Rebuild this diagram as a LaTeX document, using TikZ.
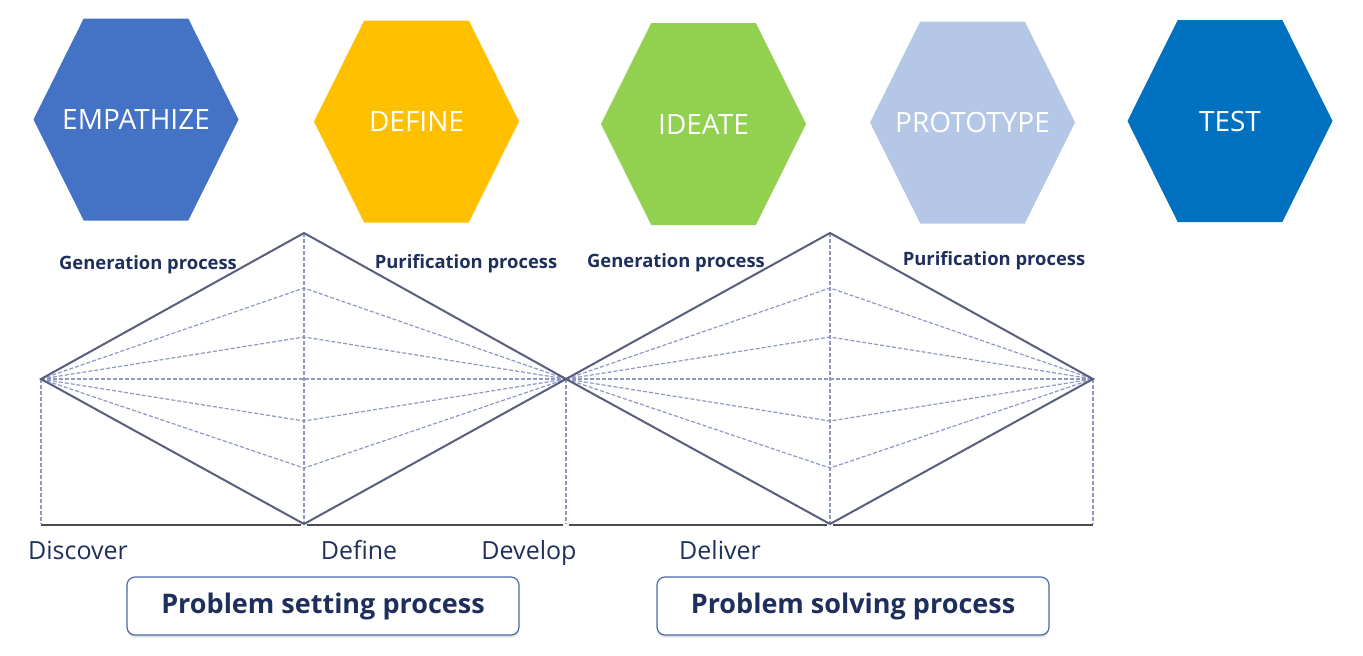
\documentclass[tikz,border=0pt]{standalone}
\usepackage{fontspec}
\setmainfont{Open Sans}
\usetikzlibrary{positioning,calc,shadows}

\definecolor{empblue}{HTML}{4472C4}
\definecolor{defyellow}{HTML}{FFC000}
\definecolor{idegreen}{HTML}{92D050}
\definecolor{protolight}{HTML}{B4C7E7}
\definecolor{testblue}{HTML}{0070C0}
\definecolor{navy}{HTML}{1F2F5C}
\definecolor{edgegray}{HTML}{585E7C}
\definecolor{fangray}{HTML}{8F98C2}
\definecolor{boxline}{HTML}{4A6AA8}

\begin{document}
\begin{tikzpicture}[
    x=0.5pt, y=-0.5pt,
    hexa/.style={minimum width=102.5pt, minimum height=101pt, inner sep=0pt,
                 text=white, font=\fontsize{14}{16}\selectfont,
                 path picture={\fill[#1] (path picture bounding box.west)
                   -- ($(path picture bounding box.north west)!0.245!(path picture bounding box.north east)$)
                   -- ($(path picture bounding box.north west)!0.755!(path picture bounding box.north east)$)
                   -- (path picture bounding box.east)
                   -- ($(path picture bounding box.south west)!0.755!(path picture bounding box.south east)$)
                   -- ($(path picture bounding box.south west)!0.245!(path picture bounding box.south east)$)
                   -- cycle;}},
    proc/.style={anchor=base, text=navy, font=\bfseries\fontsize{9.2}{11}\selectfont},
    phase/.style={anchor=base, text=navy, font=\fontsize{12.5}{14}\selectfont},
    goal/.style={draw=boxline, line width=0.6pt, fill=white, rounded corners=4pt,
                 minimum width=196pt, minimum height=29pt, text=navy,
                 font=\bfseries\fontsize{13.5}{15}\selectfont,
                 drop shadow={shadow xshift=0pt, shadow yshift=-1.2pt, opacity=0.25}},
    edge/.style={draw=edgegray, line width=1pt},
    fan/.style={draw=fangray, line width=0.6pt, dash pattern=on 2pt off 1pt},
    base/.style={draw=black!70, line width=1.4pt}
]
\useasboundingbox (0,0) rectangle (1363,655);

\node[hexa=empblue] (emp) at (136,119.5) {EMPATHIZE};
\node[hexa=defyellow] (def) at (416.5,121.5) {DEFINE};
\node[hexa=idegreen] (ide) at (703.5,124) {IDEATE};
\node[hexa=protolight] (pro) at (972.5,122.5) {PROTOTYPE};
\node[hexa=testblue] (tst) at (1230,121) {TEST};

\coordinate (lv1) at (41,379);
\coordinate (tp1) at (304,233);
\coordinate (bt1) at (304,524);
\coordinate (mv) at (566,379);
\coordinate (tp2) at (830,233);
\coordinate (bt2) at (830,524);
\coordinate (rv2) at (1093,379);

\draw[fan] (lv1) -- ($(tp1)+(0,55)$) -- (mv);
\draw[fan] (lv1) -- ($(tp1)+(0,104)$) -- (mv);
\draw[fan] (lv1) -- (mv);
\draw[fan] (lv1) -- ($(bt1)+(0,-103)$) -- (mv);
\draw[fan] (lv1) -- ($(bt1)+(0,-56)$) -- (mv);
\draw[fan] (tp1) -- (bt1);
\draw[fan] (mv) -- ($(tp2)+(0,55)$) -- (rv2);
\draw[fan] (mv) -- ($(tp2)+(0,104)$) -- (rv2);
\draw[fan] (mv) -- (rv2);
\draw[fan] (mv) -- ($(bt2)+(0,-103)$) -- (rv2);
\draw[fan] (mv) -- ($(bt2)+(0,-56)$) -- (rv2);
\draw[fan] (tp2) -- (bt2);
\draw[fan] (lv1) -- (lv1 |- bt1);
\draw[fan] (mv) -- (mv |- bt1);
\draw[fan] (rv2) -- (rv2 |- bt2);

\draw[edge] (lv1) -- (tp1) -- (mv) -- (bt1) -- cycle;
\draw[edge] (mv) -- (tp2) -- (rv2) -- (bt2) -- cycle;

\draw[base] ($(lv1 |- bt1)+(0,1)$) -- ($(bt1)+(-3,1)$);
\draw[base] ($(bt1)+(3,1)$) -- ($(mv |- bt1)+(-3,1)$);
\draw[base] ($(mv |- bt1)+(3,1)$) -- ($(bt2)+(-3,1)$);
\draw[base] ($(bt2)+(3,1)$) -- ($(rv2 |- bt2)+(0,1)$);

\node[proc] (gen1) at (148,269) {Generation process};
\node[proc] (pur1) at (466,268) {Purification process};
\node[proc] (gen2) at (676,267) {Generation process};
\node[proc] (pur2) at (994,265) {Purification process};

\node[phase] (disc) at (78,559) {Discover};
\node[phase] (dfn) at (359,559) {Define};
\node[phase] (dev) at (529,559) {Develop};
\node[phase] (dlv) at (720,559) {Deliver};

\node[goal] (setting) at (323,606) {Problem setting process};
\node[goal] (solving) at (853,606) {Problem solving process};
\end{tikzpicture}
\end{document}
